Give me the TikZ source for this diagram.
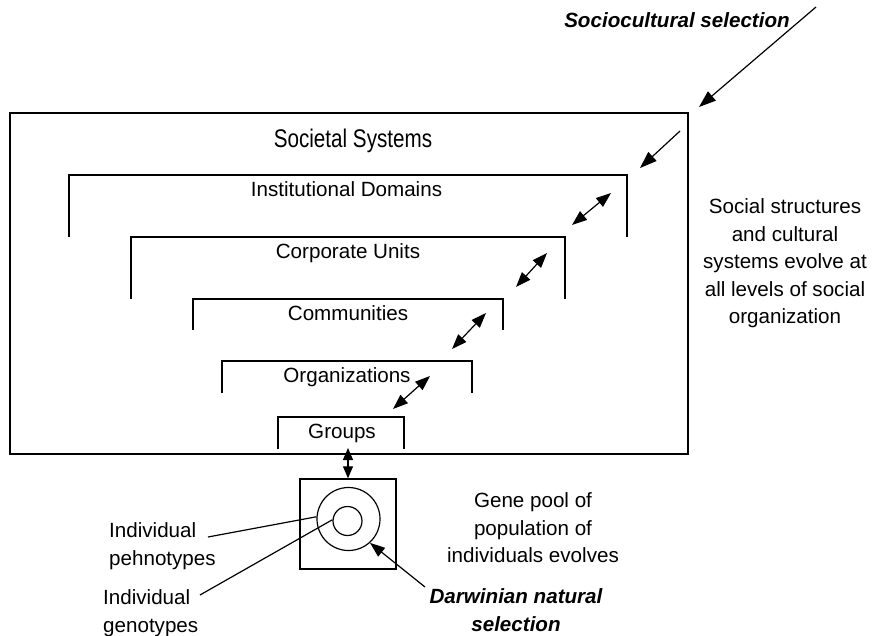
\documentclass[tikz,border=0pt]{standalone}
\usepackage{fontspec}
\setmainfont{Liberation Sans}
\usepackage{graphicx}
\usetikzlibrary{arrows.meta}

\begin{document}
\begin{tikzpicture}[>=Latex, x=1pt, y=-1pt]

% styles
\tikzset{
  frame/.style={line width=1.4pt},
  thin/.style={line width=1.2pt},
  txt/.style={inner sep=0pt, font=\fontsize{20.6}{27.5}\selectfont},
  block/.style={txt, align=center},
  seltxt/.style={inner sep=0pt, align=center, font=\fontsize{20.6}{27.5}\selectfont\bfseries\itshape},
  single/.style={->, >={Triangle[length=17pt,width=12pt]}, line width=1.2pt},
  double/.style={<->, >={Triangle[length=15pt,width=11pt]}, line width=1.2pt},
  vdouble/.style={<->, >={Triangle[length=12pt,width=10pt]}, line width=1.2pt},
}

% page
\useasboundingbox (0,0) rectangle (872,636);

% societal systems frame
\draw[frame] (10,113) rectangle (688,454);
\node[txt] (soc) at (353,140.5) {\fontsize{25.5}{30}\selectfont\scalebox{0.81}[1]{Societal Systems}};

% nested levels, open at the bottom
\draw[frame] (69,237) |- (627,175) -- (627,237);
\node[txt, anchor=base] (inst) at (346.5,196.5) {Institutional Domains};
\draw[frame] (131,299) |- (565,237) -- (565,299);
\node[txt, anchor=base] (corp) at (348,258.5) {Corporate Units};
\draw[frame] (193,330) |- (503,299) -- (503,330);
\node[txt, anchor=base] (comm) at (348,320.5) {Communities};
\draw[frame] (222,393) |- (472,361) -- (472,393);
\node[txt, anchor=base] (org) at (347,382.5) {Organizations};
\draw[frame] (278,449) |- (404,417) -- (404,449);
\node[txt, anchor=base] (grp) at (342,438.5) {Groups};

% sociocultural selection
\node[seltxt, anchor=base] (socsel) at (677,28) {Sociocultural selection};
\coordinate (s0) at (816,7);
\coordinate (s1) at (699,107);
\coordinate (s2) at (680,131);
\coordinate (s3) at (640,168);
\draw[single] (s0) -- (s1);
\draw[single] (s2) -- (s3);

% links between levels
\coordinate (a0) at (572,225);
\coordinate (a1) at (611,193);
\coordinate (b0) at (516,287);
\coordinate (b1) at (547,253);
\coordinate (c0) at (452,349);
\coordinate (c1) at (486,313);
\coordinate (d0) at (393,409);
\coordinate (d1) at (430,376);
\draw[double] (a0) -- (a1);
\draw[double] (b0) -- (b1);
\draw[double] (c0) -- (c1);
\draw[double] (d0) -- (d1);

\node[block, anchor=north] (evolve) at (785,198.5)
  {Social structures\\and cultural\\systems evolve at\\all levels of social\\organization};

% gene pool of individuals
\node[draw, frame, minimum width=96pt, minimum height=90pt, inner sep=0pt] (pool) at (348,524) {};
\node[draw, thin, circle, minimum size=63pt, inner sep=0pt] (pheno) at (348.5,519) {};
\node[draw, thin, circle, minimum size=29pt, inner sep=0pt] (geno) at (347.5,521) {};
\coordinate (g0) at (348,448);
\draw[vdouble] (g0) -- (pool.north);

\node[block, anchor=north] (gene) at (533,492.5) {Gene pool of\\population of\\individuals evolves};

\node[block, align=left, anchor=north west] (phenotxt) at (109,522.5) {Individual\\pehnotypes};
\node[block, align=left, anchor=north west] (genotxt) at (103,589.5) {Individual\\genotypes};
\coordinate (p0) at (208,537);
\coordinate (q0) at (200,595);
\draw[thin] (p0) -- (pheno.176);
\draw[thin] (q0) -- (geno.175);

% natural selection
\node[seltxt, anchor=north] (darwin) at (516,588.5) {Darwinian natural\\selection};
\coordinate (n0) at (425,587);
\draw[single, >={Triangle[length=15pt,width=11pt]}] (n0) -- (pheno.-48);

\end{tikzpicture}
\end{document}
